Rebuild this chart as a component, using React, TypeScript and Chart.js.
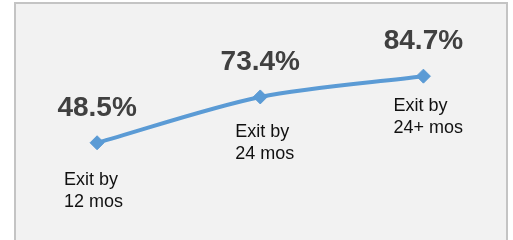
import React, { useEffect, useRef } from "react";
import { Chart, registerables } from "chart.js";

Chart.register(...registerables);

const CATEGORIES = ["Exit by 12 mos", "Exit by 24 mos", "Exit by 24+ mos"];
const CATEGORY_LINES = [
  ["Exit by", "12 mos"],
  ["Exit by", "24 mos"],
  ["Exit by", "24+ mos"],
];
const VALUES = [48.5, 73.4, 84.7];

const LINE_COLOR = "#5b9bd5";
const VALUE_COLOR = "#404040";
const CAT_COLOR = "#111111";
const CAT_OFFSETS = [
  { dx: -33, dy: 42 },
  { dx: -25, dy: 40 },
  { dx: -30, dy: 35 },
];

const framePlugin = {
  id: "frame",
  beforeDraw(chart: any) {
    const ctx = chart.ctx;
    ctx.save();
    ctx.fillStyle = "#ffffff";
    ctx.fillRect(0, 0, chart.width, chart.height);
    ctx.fillStyle = "#f2f2f2";
    ctx.fillRect(15, 3, 492, 250);
    ctx.strokeStyle = "#c4c4c4";
    ctx.lineWidth = 2;
    ctx.strokeRect(15, 3, 492, 250);
    ctx.restore();
  },
};

const labelPlugin = {
  id: "labels",
  afterDatasetsDraw(chart: any) {
    const ctx = chart.ctx;
    const meta = chart.getDatasetMeta(0);
    ctx.save();
    meta.data.forEach((pt: any, i: number) => {
      const x = pt.x;
      const y = pt.y;
      ctx.font = "bold 28px 'Liberation Sans', Arial, sans-serif";
      ctx.fillStyle = VALUE_COLOR;
      ctx.textAlign = "center";
      ctx.textBaseline = "alphabetic";
      ctx.fillText(VALUES[i].toFixed(1) + "%", x, y - 27);

      ctx.font = "18px 'Liberation Sans', Arial, sans-serif";
      ctx.fillStyle = CAT_COLOR;
      ctx.textAlign = "left";
      const off = CAT_OFFSETS[i];
      CATEGORY_LINES[i].forEach((line, j) => {
        ctx.fillText(line, x + off.dx, y + off.dy + j * 22);
      });
    });
    ctx.restore();
  },
};

export default function App() {
  const ref = useRef<HTMLCanvasElement | null>(null);
  useEffect(() => {
    if (!ref.current) return;
    const chart = new Chart(ref.current, {
      type: "line",
      data: {
        labels: CATEGORIES,
        datasets: [
          {
            data: VALUES,
            borderColor: LINE_COLOR,
            backgroundColor: LINE_COLOR,
            borderWidth: 4,
            tension: 0.3,
            pointStyle: "rectRot",
            pointRadius: 7,
            pointBorderWidth: 1,
            pointBackgroundColor: LINE_COLOR,
            pointBorderColor: LINE_COLOR,
            fill: false,
          },
        ],
      },
      options: {
        responsive: false,
        animation: false,
        layout: { padding: { left: 15.5, right: 5.5, top: 48, bottom: 6 } },
        plugins: { legend: { display: false }, tooltip: { enabled: false } },
        scales: {
          x: { type: "category", offset: true, display: false },
          y: { min: 0, max: 100, display: false },
        },
      },
      plugins: [framePlugin, labelPlugin],
    });
    return () => chart.destroy();
  }, []);
  return (
    <div style={{ position: "fixed", left: 0, top: 0, width: 513, height: 240 }}>
      <canvas ref={ref} width={513} height={240} style={{ display: "block" }} />
    </div>
  );
}
